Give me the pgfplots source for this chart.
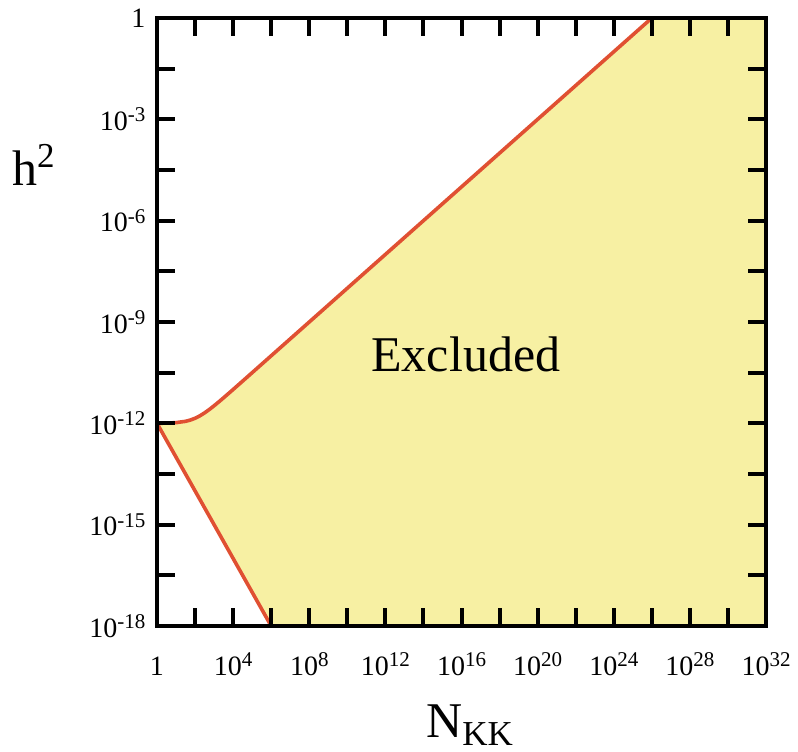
\documentclass[border=0pt]{standalone}
\usepackage{fontspec}
\setmainfont{Liberation Serif}
\usepackage{pgfplots}
\pgfplotsset{compat=1.18}
\usetikzlibrary{calc}
\definecolor{fillyel}{RGB}{247,240,163}
\definecolor{linered}{RGB}{224,80,50}
\newcommand\sups[1]{\raisebox{4.4pt}{\fontsize{10.5}{11}\selectfont #1}}
\begin{document}
\begin{tikzpicture}
\begin{axis}[
  name=ax,
  scale only axis,
  width=304.5pt, height=304pt,
  xmode=log, ymode=log,
  xmin=1, xmax=1e32, ymin=1e-18, ymax=1,
  axis on top,
  axis line style={line width=2pt},
  tick style={line width=2pt, black},
  major tick length=9pt,
  tick align=inside,
  xtick pos=both, ytick pos=both,
  xticklabel pos=left, yticklabel pos=left,
  xtick={1,1e2,1e4,1e6,1e8,1e10,1e12,1e14,1e16,1e18,1e20,1e22,1e24,1e26,1e28,1e30,1e32},
  xticklabels={1,,10\sups{4},,10\sups{8},,10\sups{12},,10\sups{16},,10\sups{20},,10\sups{24},,10\sups{28},,10\sups{32}},
  ytick={1,3.1623e-2,1e-3,3.1623e-5,1e-6,3.1623e-8,1e-9,3.1623e-11,1e-12,3.1623e-14,1e-15,3.1623e-17,1e-18},
  yticklabels={1,,10\sups{-3},,10\sups{-6},,10\sups{-9},,10\sups{-12},,10\sups{-15},,10\sups{-18}},
  ticklabel style={font=\fontsize{14}{16}\selectfont},
  xticklabel style={anchor=north, text height=11pt, text depth=0pt, yshift=-10pt},
  yticklabel style={xshift=-2.3pt},
  xlabel={N\textsubscript{KK}},
  xlabel style={font=\fontsize{25}{30}\selectfont, at={(axis description cs:0.514,-0.184)}, anchor=base},
  ylabel={h\textsuperscript{2}},
  ylabel style={font=\fontsize{25}{30}\selectfont, rotate=-90, at={(axis description cs:-0.202,0.758)}, anchor=center},
  clip=true,
]
\addplot[fill=fillyel, draw=none] coordinates {
 (1,1e-12) (3.1623,1.0157e-12) (10,1.0488e-12) (31.623,1.147e-12) (56.234,1.250e-12)
 (100,1.4142e-12) (177.83,1.666e-12) (316.23,2.040e-12) (562.34,2.573e-12) (1000,3.317e-12)
 (1778.3,4.332e-12) (3162.3,5.711e-12) (1e4,1.005e-11) (31623,1.781e-11) (1e5,3.165e-11)
 (316228,5.624e-11) (1e6,1e-10) (1e26,1) (1e32,1) (1e32,1e-18) (1e6,1e-18)
} -- cycle;
\addplot[linered, line width=1.8pt] coordinates {
 (1,1e-12) (3.1623,1.0157e-12) (10,1.0488e-12) (31.623,1.147e-12) (56.234,1.250e-12)
 (100,1.4142e-12) (177.83,1.666e-12) (316.23,2.040e-12) (562.34,2.573e-12) (1000,3.317e-12)
 (1778.3,4.332e-12) (3162.3,5.711e-12) (1e4,1.005e-11) (31623,1.781e-11) (1e5,3.165e-11)
 (316228,5.624e-11) (1e6,1e-10) (1e26,1)
};
\addplot[linered, line width=1.8pt] coordinates {(1,1e-12) (1e6,1e-18)};
\node[font=\fontsize{25}{30}\selectfont] at (rel axis cs:0.507,0.446) {Excluded};
\end{axis}
\pgfresetboundingbox
\path ($(ax.south west)+(-78.5pt,-62.5pt)$) rectangle ($(ax.north east)+(16pt,9pt)$);
\end{tikzpicture}
\end{document}
